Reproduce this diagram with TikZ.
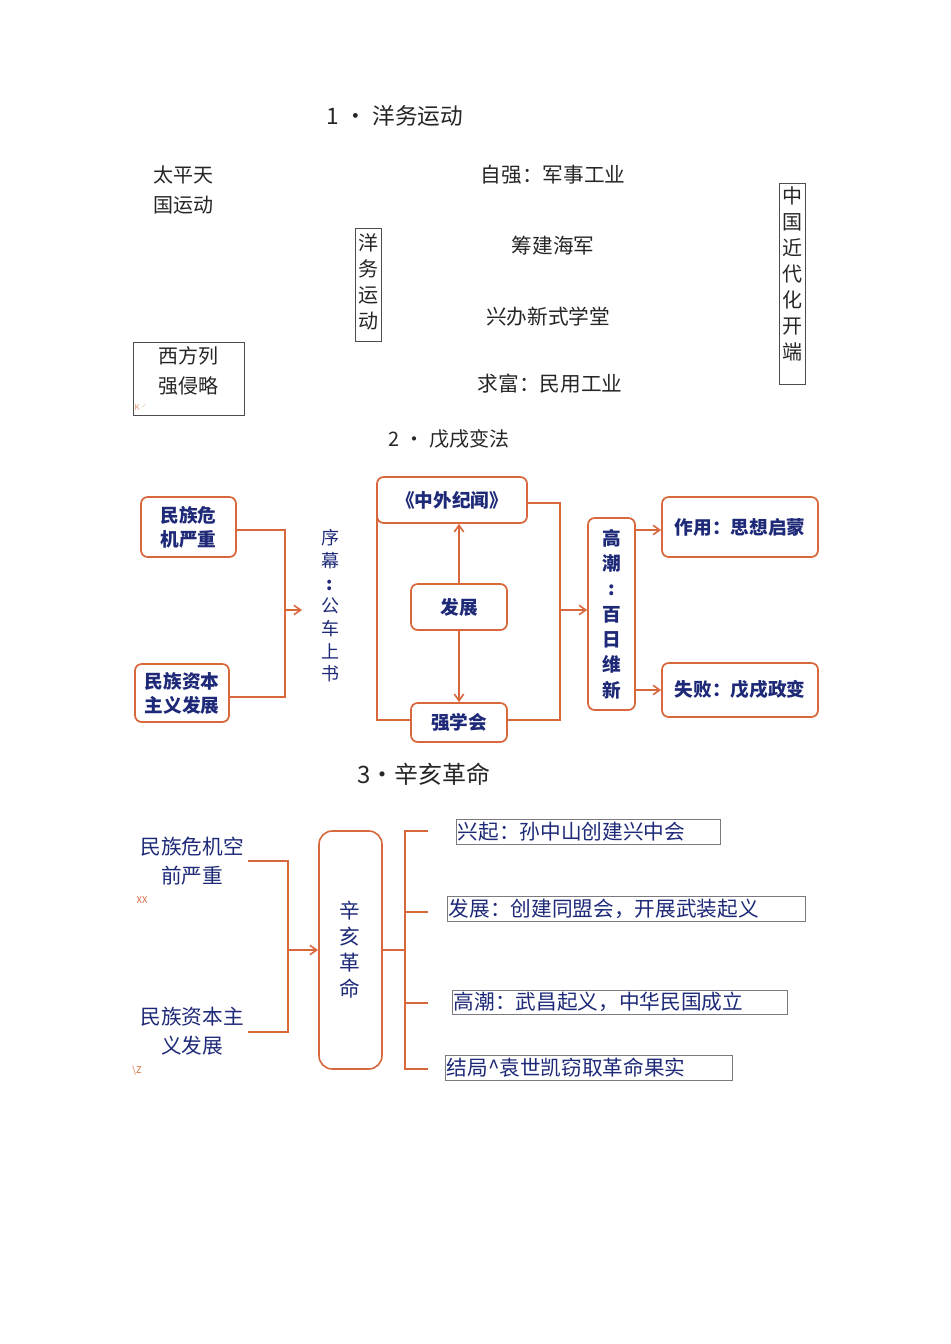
\documentclass[tikz,border=0pt]{standalone}
\usepackage{fontspec}
\setmainfont{Noto Sans CJK SC}
\usetikzlibrary{arrows.meta}
\definecolor{tblue}{HTML}{1E2A78}
\definecolor{ora}{HTML}{D9673C}
\definecolor{gbox}{HTML}{7A7A80}
\newcommand{\fs}[2]{\fontsize{#1pt}{#2pt}\selectfont}
\tikzset{
 plain/.style={text=black!85,font=\fs{15.5}{20}},
 obox/.style={draw=ora,line width=1.3pt,rounded corners=5pt,text=tblue,font=\bfseries\fs{14}{18},align=center,inner sep=2pt},
 gbx/.style={draw=gbox,line width=0.6pt,text=tblue,font=\fs{15.5}{20},anchor=west,inner sep=1pt,align=left},
 oline/.style={draw=ora,line width=1.2pt},
 oarr/.style={oline,-{Straight Barb[length=5pt,width=7pt]}},
 btxt/.style={text=tblue,font=\fs{15.5}{22},align=center},
}
\begin{document}
\begin{tikzpicture}[x=0.75pt,y=-0.75pt]
\useasboundingbox[fill=white] (0,0) rectangle (950,1344);
% ---------- section 1
\node[plain,font=\fs{17}{20}] (t1) at (395,116) {1 · 洋务运动};
\node[plain,align=center,font=\fs{15}{22}] (tp) at (183,190) {太平天\\国运动};
\node[plain] (a1) at (553,175) {自强：军事工业};
\node[plain] (a2) at (553,246) {筹建海军};
\node[plain] (a3) at (548,317) {兴办新式学堂};
\node[plain] (a4) at (550,384) {求富：民用工业};
\draw[black!70,line width=0.6pt] (355,228) rectangle (381,341);
\node[plain,align=center,font=\fs{15}{19.5}] (yw) at (368,282) {洋\\务\\运\\动};
\draw[black!70,line width=0.6pt] (779,183) rectangle (805,384);
\node[plain,align=center,font=\fs{15}{19.5}] (zg) at (792,274) {中\\国\\近\\代\\化\\开\\端};
\draw[black!70,line width=0.6pt] (133,342) rectangle (244,415);
\node[plain,align=center,font=\fs{15}{22}] (xf) at (188,371) {西方列\\强侵略};
\node[text=ora!70,font=\fs{6}{7}] (kk) at (142,407) {K ╯};
% ---------- section 2
\node[plain,font=\fs{15}{18}] (t2) at (449,439) {2 · 戊戌变法};
\node[obox,minimum width=95*0.75pt,minimum height=60*0.75pt] (m1) at (188.5,527) {民族危\\机严重};
\node[obox,minimum width=94*0.75pt,minimum height=58*0.75pt] (m2) at (182,693) {民族资本\\主义发展};
\coordinate (j1) at (285,610);
\coordinate (j1e) at (302,610);
\draw[oline] (m1.east |- 0,530) -- (285,530) -- (285,697) -- (m2.east |- 0,697);
\draw[oarr] (j1) -- (j1e);
\node[btxt,font=\fs{13.5}{17}] (xm) at (330,606) {序\\幕\\\textbf{:}\\公\\车\\上\\书};
\node[obox,minimum width=150*0.75pt,minimum height=46*0.75pt] (zw) at (452,500) {《中外纪闻》};
\node[obox,minimum width=96*0.75pt,minimum height=46*0.75pt] (fz) at (459,607) {发展};
\node[obox,minimum width=96*0.75pt,minimum height=39*0.75pt] (qx) at (459,722.5) {强学会};
\draw[oarr] (fz.north) -- (zw.south -| fz.north);
\draw[oarr] (fz.south) -- (qx.north);
\draw[oline] (zw.west |- 0,503) -- (377,503) -- (377,720) -- (qx.west |- 0,720);
\draw[oline] (zw.east |- 0,503) -- (560,503) -- (560,720) -- (qx.east |- 0,720);
\node[obox,font=\bfseries\fs{14}{19},minimum width=47*0.75pt,minimum height=192*0.75pt] (gc) at (611.5,614) {高\\潮\\:\\百\\日\\维\\新};
\draw[oarr] (560,610) -- (gc.west |- 0,610);
\node[obox,minimum width=156*0.75pt,minimum height=60*0.75pt] (zy) at (740,527) {作用：思想启蒙};
\node[obox,minimum width=156*0.75pt,minimum height=54*0.75pt] (sb) at (740,690) {失败：戊戌政变};
\draw[oarr] (gc.east |- 0,530) -- (zy.west |- 0,530);
\draw[oarr] (gc.east |- 0,690) -- (sb.west);
% ---------- section 3
\node[plain,font=\fs{18}{20}] (t3) at (424,774) {3•辛亥革命};
\node[btxt] (l1) at (192,861) {民族危机空\\前严重};
\node[btxt] (l2) at (192,1031) {民族资本主\\义发展};
\node[text=ora,font=\fs{7}{8}] (xx) at (142,900) {XX};
\node[text=ora,font=\fs{7}{8}] (zz) at (137,1071) {\textbackslash Z};
\draw[oline] (248,861) -- (288,861) -- (288,1032) -- (248,1032);
\draw[oarr] (288,950) -- (318,950);
\draw[oline,rounded corners=10pt] (319,831) rectangle (382,1069);
\node[btxt,font=\fs{15.5}{19.5}] (xh) at (350,950) {辛\\亥\\革\\命};
\draw[oline] (382,950) -- (405,950);
\draw[oline] (428,831) -- (405,831) -- (405,1069) -- (428,1069);
\draw[oline] (405,912) -- (428,912);
\draw[oline] (405,1003) -- (428,1003);
\node[gbx,text width=261*0.75pt,minimum height=25*0.75pt] (b1) at (456,831.5) {兴起：孙中山创建兴中会};
\node[gbx,text width=355*0.75pt,minimum height=25*0.75pt] (b2) at (447,908.5) {发展：创建同盟会，开展武装起义};
\node[gbx,text width=332*0.75pt,minimum height=24*0.75pt] (b3) at (452,1002) {高潮：武昌起义，中华民国成立};
\node[gbx,text width=284*0.75pt,minimum height=25*0.75pt] (b4) at (445,1067.5) {结局\^{}袁世凯窃取革命果实};
\end{tikzpicture}
\end{document}
